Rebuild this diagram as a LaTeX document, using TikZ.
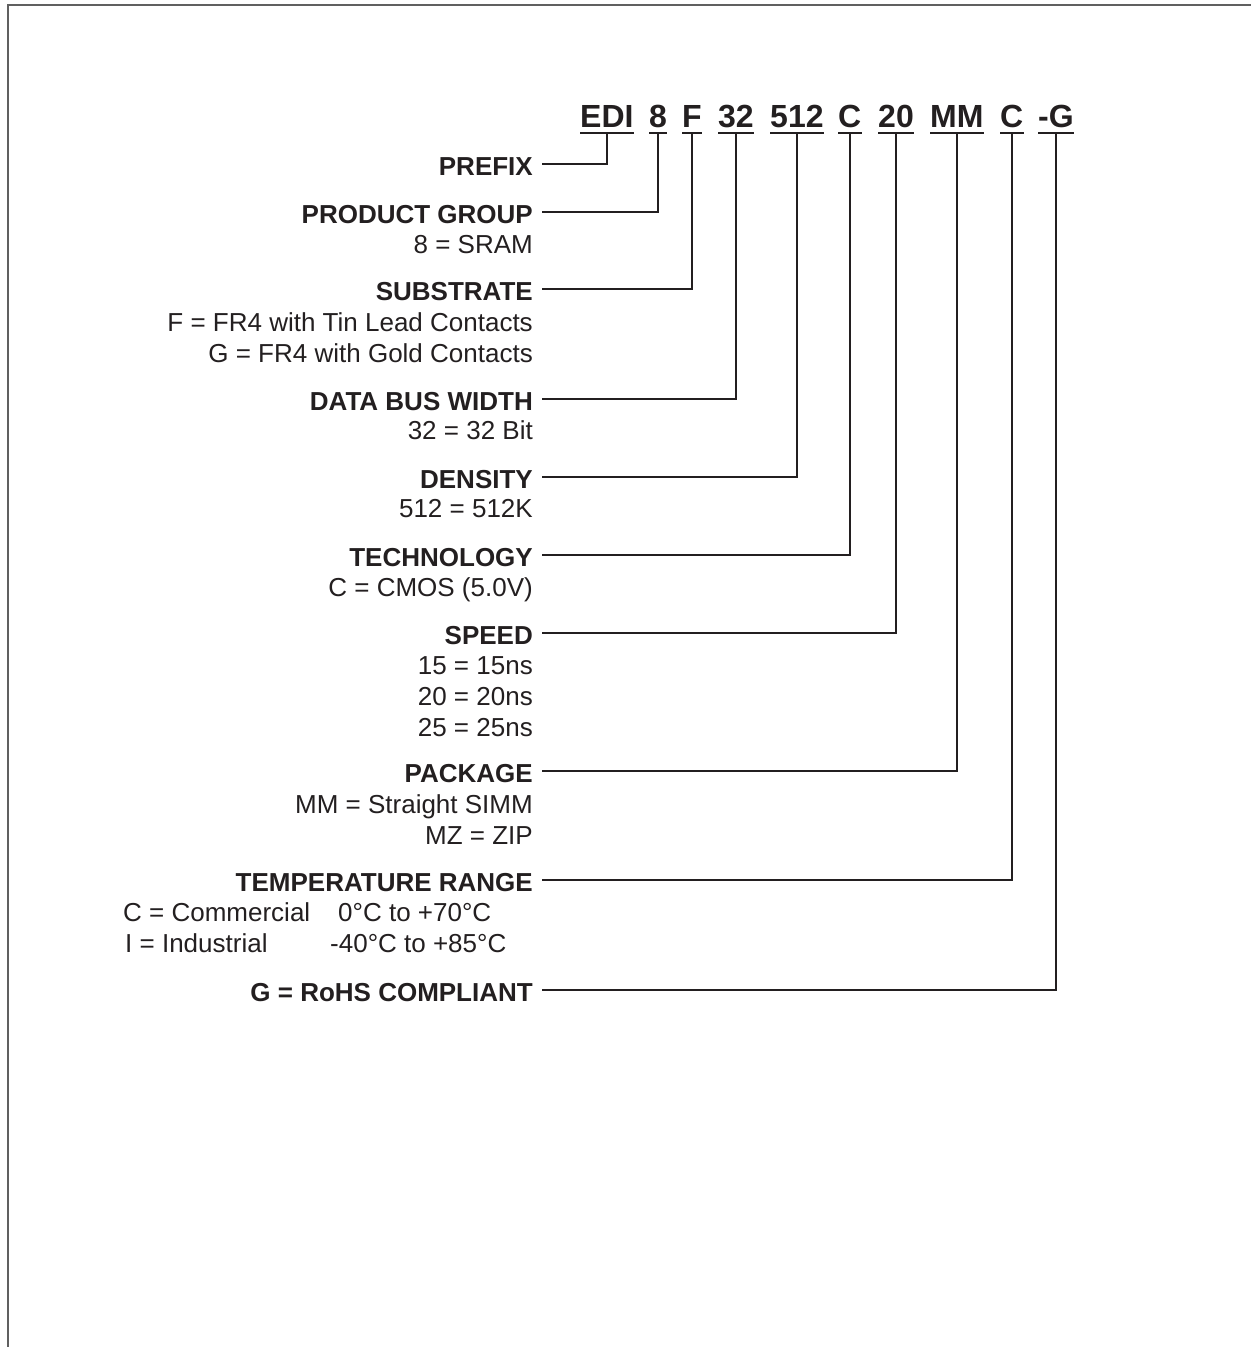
\documentclass[tikz,border=0pt]{standalone}
\usepackage{fontspec}
\setmainfont{Liberation Sans}
\definecolor{ink}{HTML}{231F20}
\definecolor{frame}{HTML}{606060}
\begin{document}
\begin{tikzpicture}[x=1pt,y=-1pt,
  seg/.style={anchor=base west,inner sep=0pt,text depth=0pt,text=ink,font=\fontsize{32}{36}\selectfont\bfseries},
  head/.style={anchor=base east,inner sep=0pt,text height=22pt,text depth=0pt,text=ink,font=\fontsize{26}{31}\selectfont\bfseries},
  val/.style={anchor=base east,inner sep=0pt,text=ink,font=\fontsize{26}{31}\selectfont},
  valw/.style={anchor=base west,inner sep=0pt,text=ink,font=\fontsize{26}{31}\selectfont},
  conn/.style={draw=ink,line width=1.5pt},
  uline/.style={draw=ink,line width=2pt}]
\useasboundingbox (0,0) rectangle (1251,1347);
\draw[frame,line width=2pt] (8,1347) -- (8,5) -- (1251,5);
% code segments
\node[seg] (s1) at (580,127) {EDI};
\node[seg] (s2) at (649,127) {8};
\node[seg] (s3) at (682,127) {F};
\node[seg] (s4) at (718,127) {32};
\node[seg] (s5) at (770,127) {512};
\node[seg] (s6) at (838,127) {C};
\node[seg] (s7) at (878,127) {20};
\node[seg] (s8) at (930,127) {MM};
\node[seg] (s9) at (1000,127) {C};
\node[seg] (s10) at (1038,127) {-G};
\foreach \s in {s1,s2,s3,s4,s5,s6,s7,s8,s9,s10}
  \draw[uline] ([yshift=-6pt]\s.south west) -- ([yshift=-6pt]\s.south east);
% headings
\node[head] (h1) at (533,175) {PREFIX};
\node[head] (h2) at (533,223) {PRODUCT GROUP};
\node[val] (v2a) at (533,253) {8 = SRAM};
\node[head] (h3) at (533,300) {SUBSTRATE};
\node[val] (v3a) at (533,331) {F = FR4 with Tin Lead Contacts};
\node[val] (v3b) at (533,362) {G = FR4 with Gold Contacts};
\node[head] (h4) at (533,410) {DATA BUS WIDTH};
\node[val] (v4a) at (533,439) {32 = 32 Bit};
\node[head] (h5) at (533,488) {DENSITY};
\node[val] (v5a) at (533,517) {512 = 512K};
\node[head] (h6) at (533,566) {TECHNOLOGY};
\node[val] (v6a) at (533,596) {C = CMOS (5.0V)};
\node[head] (h7) at (533,644) {SPEED};
\node[val] (v7a) at (533,674) {15 = 15ns};
\node[val] (v7b) at (533,705) {20 = 20ns};
\node[val] (v7c) at (533,736) {25 = 25ns};
\node[head] (h8) at (533,782) {PACKAGE};
\node[val] (v8a) at (533,813) {MM = Straight SIMM};
\node[val] (v8b) at (533,844) {MZ = ZIP};
\node[head] (h9) at (533,891) {TEMPERATURE RANGE};
\node[valw] (v9a) at (123,921) {C = Commercial};
\node[valw] (v9b) at (338,921) {0°C to +70°C};
\node[valw] (v9c) at (125,952) {I = Industrial};
\node[valw] (v9d) at (330,952) {-40°C to +85°C};
\node[head] (h10) at (533,1001) {G = RoHS COMPLIANT};
% connectors
\draw[conn] ([yshift=-6pt]s1.south) |- ([xshift=9pt]h1.east);
\draw[conn] ([yshift=-6pt]s2.south) |- ([xshift=9pt]h2.east);
\draw[conn] ([yshift=-6pt]s3.south) |- ([xshift=9pt]h3.east);
\draw[conn] ([yshift=-6pt]s4.south) |- ([xshift=9pt]h4.east);
\draw[conn] ([yshift=-6pt]s5.south) |- ([xshift=9pt]h5.east);
\draw[conn] ([yshift=-6pt]s6.south) |- ([xshift=9pt]h6.east);
\draw[conn] ([yshift=-6pt]s7.south) |- ([xshift=9pt]h7.east);
\draw[conn] ([yshift=-6pt]s8.south) |- ([xshift=9pt]h8.east);
\draw[conn] ([yshift=-6pt]s9.south) |- ([xshift=9pt]h9.east);
\draw[conn] ([yshift=-6pt]s10.south) |- ([xshift=9pt]h10.east);
\end{tikzpicture}
\end{document}
